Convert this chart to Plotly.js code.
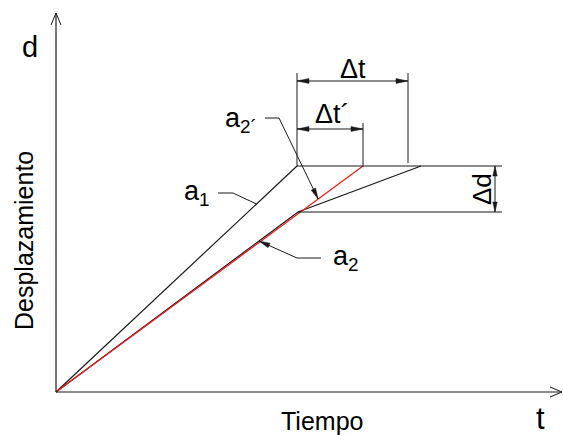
<!DOCTYPE html>
<html><head><meta charset="utf-8">
<script src="https://cdn.plot.ly/plotly-3.0.1.min.js"></script>
<style>html,body{margin:0;padding:0;background:#fff}#chart{width:563px;height:435px}</style>
</head><body><div id="chart"></div>
<script>
// Schematic data: time t vs displacement d (arbitrary units)
const tA1 = [0, 241];
const dA1 = [0, 226];
const tA2 = [0, 242, 365];
const dA2 = [0, 180, 226];
const tA2p = [0, 307];
const dA2p = [0, 226];
const curveNames = ['a<sub>1</sub>', 'a<sub>2</sub>', 'a<sub>2´</sub>'];
const dimLabels = ['Δt', 'Δt´', 'Δd'];
const axisTitles = ['Tiempo', 'Desplazamiento'];
const axisSymbols = ['t', 'd'];

const K = '#1a1a1a', RED = '#ee1c1c', FONT = 'Arial, "Liberation Sans", sans-serif';
const shapes = [], ann = [];
function seg(x0, y0, x1, y1, w) {
  shapes.push({type: 'line', xref: 'x', yref: 'y', x0, y0, x1, y1, line: {color: K, width: w || 1}, layer: 'above'});
}
function head(tx, ty, fx, fy, len, hw) {
  const dx = tx - fx, dy = ty - fy, L = Math.hypot(dx, dy), ux = dx / L, uy = dy / L;
  const bx = tx - ux * len, by = ty - uy * len, px = -uy * hw, py = ux * hw;
  shapes.push({type: 'path', xref: 'x', yref: 'y', layer: 'above', fillcolor: K, line: {color: K, width: 0.5},
    path: `M${tx},${ty} L${bx + px},${by + py} L${bx - px},${by - py} Z`});
}
function chevron(tx, ty, fx, fy, len, hw) {
  const dx = tx - fx, dy = ty - fy, L = Math.hypot(dx, dy), ux = dx / L, uy = dy / L;
  const bx = tx - ux * len, by = ty - uy * len, px = -uy * hw, py = ux * hw;
  seg(tx, ty, bx + px, by + py, 1); seg(tx, ty, bx - px, by - py, 1);
}
function label(x, y, text, size, angle) {
  ann.push({x, y, xref: 'x', yref: 'y', text, showarrow: false, textangle: angle || 0,
    font: {family: FONT, size, color: '#000'}, xanchor: 'center', yanchor: 'middle'});
}
function onLine(ts, ds, d) { return ts[ts.length - 1] * d / ds[ds.length - 1]; }

// axes with open arrow tips
const yTop = 379, xRight = 506;
seg(0, 0, 0, yTop, 1.2); chevron(0, yTop, 0, 0, 12, 5);
seg(0, 0, xRight, 0, 1.2); chevron(xRight, 0, 0, 0, 12, 5);

// key points from the data
const peakT = tA1[1], topD = dA1[1];
const bendT = tA2[1], bendD = dA2[1];
const slowT = tA2[2], redT = tA2p[1];
const refEnd = 446;

// reference horizontals
seg(peakT, topD, refEnd, topD, 1);
seg(bendT, bendD, refEnd, bendD, 1);

// Δt dimension
const dtRight = 352, dtY = 311, extTop = 319;
seg(peakT, topD, peakT, extTop, 1);
seg(dtRight, topD + 3, dtRight, extTop, 1);
seg(peakT, dtY, dtRight, dtY, 1);
head(peakT, dtY, dtRight, dtY, 12, 2.4); head(dtRight, dtY, peakT, dtY, 12, 2.4);
label((peakT + dtRight) / 2, dtY + 12, dimLabels[0], 27);

// Δt' dimension
const dtpY = 263, extTop2 = 269;
seg(redT, topD, redT, extTop2, 1);
seg(peakT, dtpY, redT, dtpY, 1);
head(peakT, dtpY, redT, dtpY, 12, 2.4); head(redT, dtpY, peakT, dtpY, 12, 2.4);
label((peakT + redT) / 2 + 2, dtpY + 15, dimLabels[1], 27);

// Δd dimension
const ddX = 439;
seg(ddX, topD, ddX, bendD, 1);
head(ddX, topD, ddX, bendD, 10, 2.2); head(ddX, bendD, ddX, topD, 10, 2.2);
label(ddX - 13, (topD + bendD) / 2, dimLabels[2], 26, -90);

// leaders
// a1
const a1D = 188, a1T = onLine(tA1, dA1, a1D);
seg(162, 199, 177, 199, 1); seg(177, 199, a1T, a1D, 1);
label(141, 199, curveNames[0], 27);
// a2
const a2D = 151, a2T = bendT * a2D / bendD;
seg(265, 134, 241, 134, 1); seg(241, 134, a2T, a2D, 1);
head(a2T, a2D, 241, 134, 11, 2.4);
label(290, 134, curveNames[1], 27);
// a2'
const a2pD = 193, a2pT = onLine(tA2p, dA2p, a2pD);
seg(209, 274, 223, 274, 1); seg(223, 274, a2pT, a2pD, 1);
head(a2pT, a2pD, 223, 274, 11, 2.4);
label(185, 272, curveNames[2], 27);

// axis titles
label(266, -29, axisTitles[0], 25);
label(-32, 151, axisTitles[1], 25, -90);
label(484, -26, axisSymbols[0], 31);
label(-26, 345, axisSymbols[1], 29);

const traces = [
  {x: tA1, y: dA1, mode: 'lines', line: {color: K, width: 1.2}},
  {x: tA2, y: dA2, mode: 'lines', line: {color: K, width: 1.2}},
  {x: tA2p, y: dA2p, mode: 'lines', line: {color: RED, width: 1.3}}
];
const hid = {showgrid: false, zeroline: false, showticklabels: false, showline: false, ticks: '', fixedrange: true};
const layout = {
  width: 563, height: 435, margin: {l: 0, r: 0, t: 0, b: 0},
  paper_bgcolor: '#fff', plot_bgcolor: '#fff', showlegend: false,
  xaxis: Object.assign({range: [-56, 507]}, hid),
  yaxis: Object.assign({range: [-43, 392]}, hid),
  shapes, annotations: ann
};
Plotly.newPlot('chart', traces, layout, {staticPlot: true, displayModeBar: false});
</script></body></html>
